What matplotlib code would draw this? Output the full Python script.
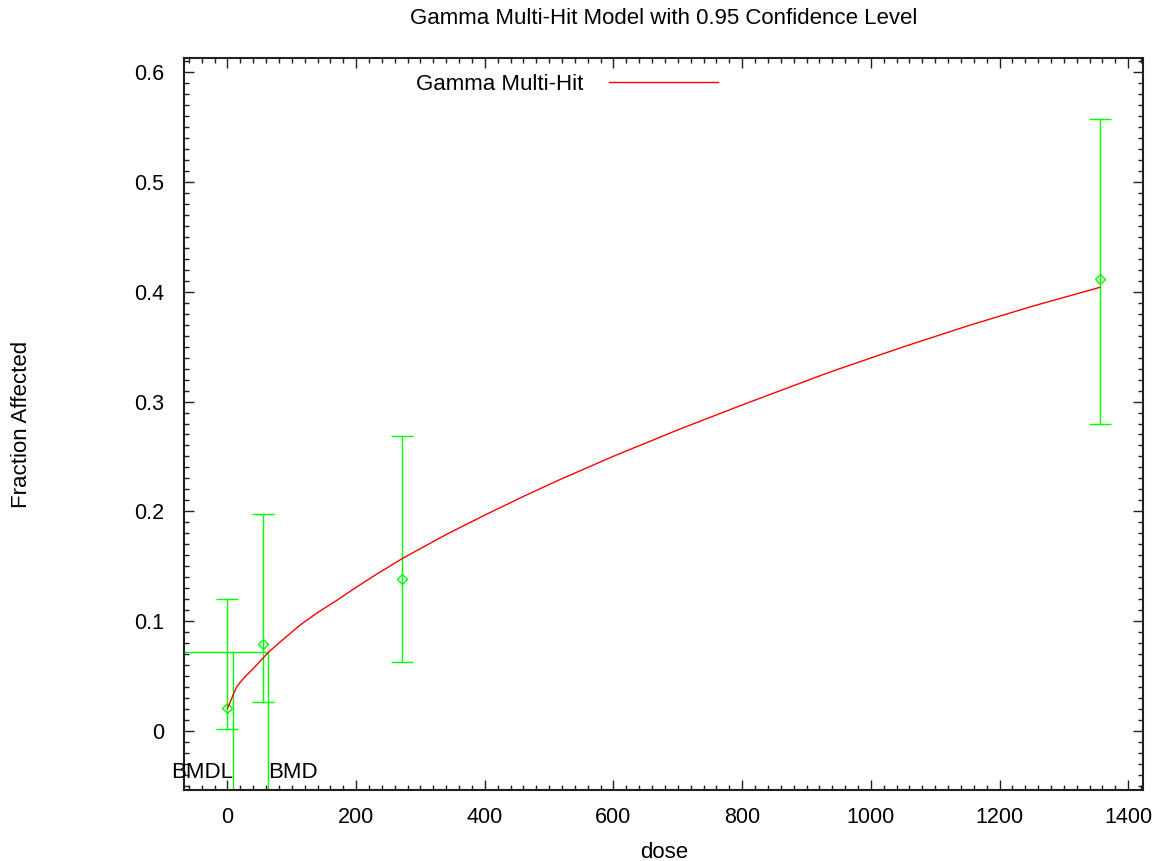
import matplotlib
matplotlib.use("Agg")
import matplotlib.pyplot as plt
from matplotlib.ticker import MultipleLocator

plt.rcParams['font.family'] = ['Liberation Sans', 'DejaVu Sans']

# Observed data with 95% confidence limits
dose = [0, 55, 271.5, 1356.7]
frac = [0.021, 0.0792, 0.138, 0.4117]
ci_low = [0.002, 0.0264, 0.0628, 0.2796]
ci_high = [0.12, 0.1976, 0.2687, 0.5574]

# Fitted Gamma Multi-Hit curve
curve_dose = [0, 2.6, 9.3, 14.6, 20, 27.5, 40.4, 63.7, 85.5, 113, 140, 170,
              200, 230, 272.5, 340, 400, 460, 517, 600, 700, 800, 921, 952,
              1050, 1150, 1250, 1356]
curve_frac = [0.021, 0.0237, 0.0337, 0.0404, 0.0445, 0.0495, 0.057, 0.0717,
              0.0829, 0.0965, 0.1078, 0.119, 0.1308, 0.1421, 0.1573, 0.1789,
              0.1966, 0.2136, 0.229, 0.2502, 0.2742, 0.2969, 0.3235, 0.330,
              0.3497, 0.3688, 0.3866, 0.404]

bmd = 63.7
bmdl = 8.4
bmr_level = 0.0717

xlim = (-67.5, 1423)
ylim = (-0.0537, 0.6128)

fig = plt.figure(figsize=(11.61, 8.61), dpi=100)
ax = fig.add_axes([0.1585, 0.0825, 0.9845 - 0.1585, 0.9326 - 0.0825])

green = '#00ff00'
ax.plot(curve_dose, curve_frac, color='#ff0000', lw=1.0, label='Gamma Multi-Hit', zorder=3)

yerr = [[f - l for f, l in zip(frac, ci_low)], [h - f for f, h in zip(frac, ci_high)]]
ax.errorbar(dose, frac, yerr=yerr, fmt='D', color=green, mfc='none', mec=green,
            ms=5, mew=1.0, ecolor=green, elinewidth=1.0, capsize=8, capthick=1.0,
            zorder=2)

# BMD / BMDL lines
ax.plot([xlim[0], bmd], [bmr_level, bmr_level], color=green, lw=1.0)
ax.plot([bmd, bmd], [ylim[0], bmr_level], color=green, lw=1.0)
ax.plot([bmdl, bmdl], [ylim[0], bmr_level], color=green, lw=1.0)
ax.text(bmdl, -0.0375, 'BMDL', ha='right', va='center', fontsize=16)
ax.text(bmd, -0.0375, 'BMD', ha='left', va='center', fontsize=16)

ax.set_xlim(*xlim)
ax.set_ylim(*ylim)
ax.xaxis.set_major_locator(MultipleLocator(200))
ax.xaxis.set_minor_locator(MultipleLocator(20))
ax.yaxis.set_major_locator(MultipleLocator(0.1))
ax.yaxis.set_minor_locator(MultipleLocator(0.01))
ax.tick_params(which='both', direction='in', top=True, right=True, width=1.0, color='#202020')
ax.tick_params(which='major', length=7, labelsize=15.5)
ax.tick_params(which='minor', length=3.5)
ax.tick_params(axis='y', which='major', pad=14)
ax.tick_params(axis='x', which='major', pad=12)
ax.set_yticklabels(['0' if abs(v) < 1e-9 else f'{v:.1f}' for v in ax.get_yticks()])
for s in ax.spines.values():
    s.set_linewidth(1.5)
    s.set_color('#202020')

fig.text(664 / 1161, 1 - 852 / 861, 'dose', ha='center', va='center', fontsize=16)
fig.text(22 / 1161, 1 - 424 / 861, 'Fraction Affected', ha='center', va='center',
         rotation=90, fontsize=16)
fig.text(664 / 1161, 1 - 19 / 861, 'Gamma Multi-Hit Model with 0.95 Confidence Level',
         ha='center', va='center', fontsize=16)

ax.legend(loc='upper left', bbox_to_anchor=(396 / 1161, 1 - 54 / 861),
          bbox_transform=fig.transFigure, frameon=False, markerfirst=False,
          handlelength=4.9, fontsize=16, handletextpad=1.17)

fig.savefig('out.png', dpi=100)
